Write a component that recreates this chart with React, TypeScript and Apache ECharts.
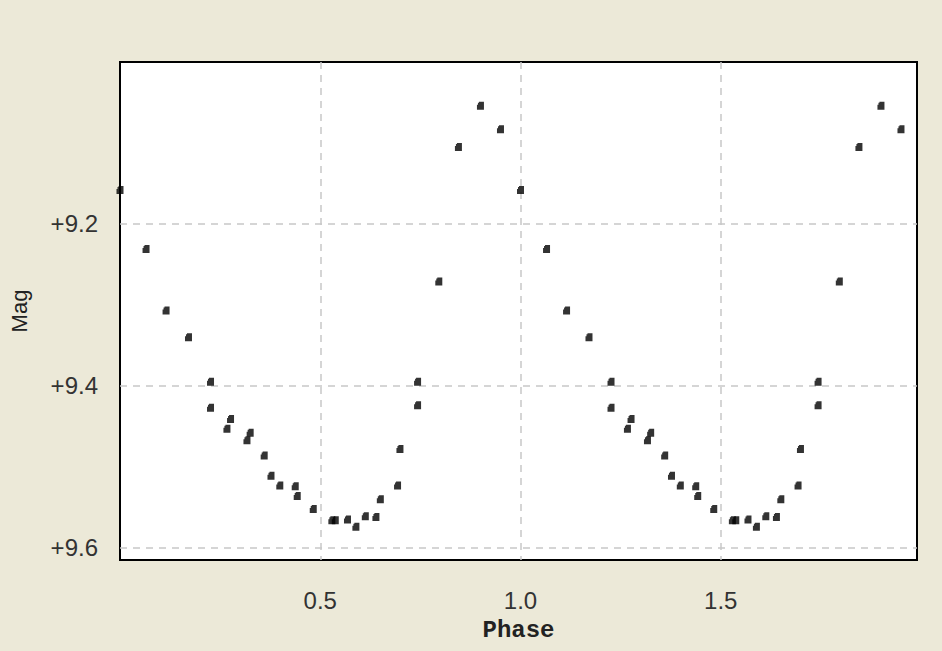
import React, { useEffect, useRef } from "react";
import * as echarts from "echarts";

// Folded light curve: one cycle of observations (phase 0..1), plotted twice
const phases = [
  0.0, 0.065, 0.115, 0.171, 0.226, 0.226, 0.276, 0.267, 0.325, 0.317, 0.36,
  0.377, 0.399, 0.4375, 0.4425, 0.4825, 0.529, 0.5375, 0.568, 0.589, 0.6125,
  0.639, 0.65, 0.693, 0.699, 0.743, 0.743, 0.796, 0.845, 0.9, 0.95,
];
const mags = [
  9.158, 9.231, 9.307, 9.34, 9.395, 9.427, 9.441, 9.453, 9.458, 9.467, 9.486,
  9.511, 9.523, 9.524, 9.536, 9.552, 9.566, 9.566, 9.565, 9.574, 9.561, 9.562,
  9.54, 9.523, 9.478, 9.424, 9.395, 9.271, 9.105, 9.054, 9.083,
];
const cycles = [0, 1];
const xTicks = [0, 0.5, 1.0, 1.5];
const yTicks = [9.0, 9.2, 9.4, 9.6];

export default function App() {
  const ref = useRef<HTMLDivElement>(null);
  useEffect(() => {
    document.body.style.margin = "0";
    document.body.style.background = "#ECE9D8";
    if (!ref.current) return;
    const chart = echarts.init(ref.current, null, { renderer: "svg" });
    const data: number[][] = [];
    cycles.forEach((c) => {
      phases.forEach((p, i) => data.push([p + c, mags[i]]));
    });
    const tickFont = "'Liberation Sans', Arial, sans-serif";
    const isTick = (v: number, ticks: number[]) =>
      ticks.some((t) => Math.abs(t - v) < 1e-6);
    chart.setOption({
      animation: false,
      backgroundColor: "#ECE9D8",
      grid: {
        left: 120,
        top: 62,
        right: 25,
        bottom: 91,
        show: true,
        backgroundColor: "#ffffff",
        borderColor: "#000000",
        borderWidth: 2,
      },
      xAxis: {
        type: "value",
        min: xTicks[0],
        max: 1.99,
        interval: 0.5,
        name: "Phase",
        nameLocation: "middle",
        nameGap: 58,
        nameTextStyle: {
          fontFamily: "'Liberation Mono', 'DejaVu Sans Mono', monospace",
          fontSize: 24,
          fontWeight: "bold",
          color: "#222",
        },
        axisLine: { show: false },
        axisTick: { show: false },
        axisLabel: {
          margin: 28,
          fontFamily: tickFont,
          fontSize: 24,
          color: "#333",
          showMaxLabel: false,
          showMinLabel: false,
          formatter: (v: number) =>
            isTick(v, xTicks) && Math.abs(v) > 1e-9 ? v.toFixed(1) : "",
        },
        splitLine: {
          show: true,
          showMinLine: false,
          showMaxLine: false,
          lineStyle: { color: "#c8c8c8", type: [7, 6], width: 1.5 },
        },
      },
      yAxis: {
        type: "value",
        inverse: true,
        min: yTicks[0],
        max: 9.615,
        interval: 0.2,
        name: "Mag",
        nameLocation: "middle",
        nameGap: 90,
        nameRotate: 90,
        nameTextStyle: {
          fontFamily: "'Liberation Sans', Arial, sans-serif",
          fontSize: 22,
          color: "#222",
        },
        axisLine: { show: false },
        axisTick: { show: false },
        axisLabel: {
          margin: 22,
          fontFamily: tickFont,
          fontSize: 24,
          color: "#333",
          showMaxLabel: false,
          formatter: (v: number) =>
            isTick(v, yTicks) && Math.abs(v - yTicks[0]) > 1e-6
              ? "+" + v.toFixed(1)
              : "",
        },
        splitLine: {
          show: true,
          showMinLine: false,
          showMaxLine: false,
          lineStyle: { color: "#c8c8c8", type: [7, 6], width: 1.5 },
        },
      },
      series: [
        {
          type: "scatter",
          data,
          symbol: "path://M2,0H7V8H0V3H1V1H2Z",
          symbolSize: [7, 8],
          itemStyle: { color: "#000000" },
        },
      ],
    });
    return () => chart.dispose();
  }, []);
  return <div ref={ref} style={{ width: 942, height: 651 }} />;
}
